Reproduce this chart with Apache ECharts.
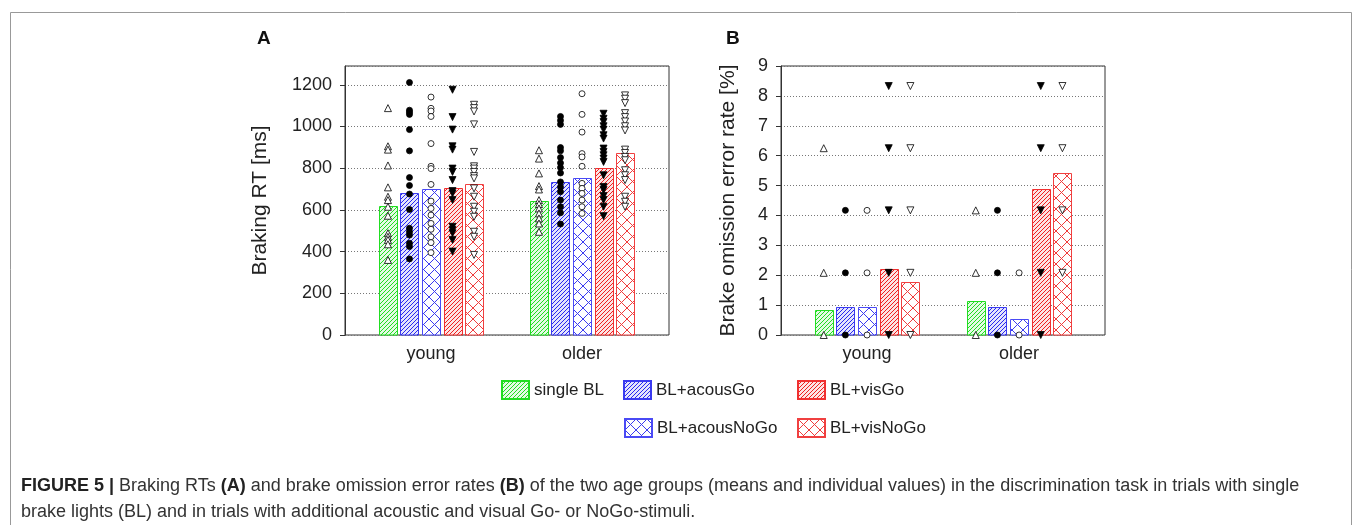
<!DOCTYPE html>
<html>
<head>
<meta charset="utf-8">
<script src="https://cdn.jsdelivr.net/npm/echarts@6/dist/echarts.min.js"></script>
<style>
  html, body { margin: 0; padding: 0; background: #fff; }
  #main { width: 1357px; height: 525px; }
</style>
</head>
<body>
<div id="main"></div>
<script>
// groups and conditions
var groups = ['young', 'older'];
var conditions = ['single BL', 'BL+acousGo', 'BL+acousNoGo', 'BL+visGo', 'BL+visNoGo'];

// panel A: braking RT means [ms]
var rtMeanYoung = [620, 679, 699, 703, 723];
var rtMeanOlder = [642, 733, 755, 801, 872];

// panel A: individual RTs per condition
var rtYoung = [
  [1088, 905, 889, 813, 708, 663, 647, 615, 572, 488, 471, 456, 435, 360],
  [1211, 1078, 1068, 1058, 985, 883, 755, 717, 676, 602, 512, 495, 479, 440, 424, 365],
  [1141, 1087, 1074, 1048, 918, 809, 798, 722, 642, 607, 575, 535, 507, 471, 443, 395],
  [1176, 1045, 985, 905, 889, 798, 782, 743, 690, 679, 647, 519, 503, 488, 456, 400],
  [1104, 1088, 1072, 1010, 878, 809, 798, 782, 762, 751, 703, 663, 615, 591, 567, 495, 471, 384]
];
var rtOlder = [
  [886, 846, 775, 714, 698, 647, 628, 607, 583, 559, 535, 495],
  [1048, 1029, 1010, 899, 883, 851, 825, 803, 777, 734, 710, 687, 647, 615, 586, 532],
  [1157, 1058, 973, 870, 854, 809, 727, 703, 679, 647, 615, 583],
  [1061, 1037, 1021, 1001, 985, 958, 942, 894, 878, 862, 846, 830, 766, 710, 695, 666, 647, 615, 570],
  [1149, 1133, 1112, 1064, 1045, 1024, 1001, 981, 889, 873, 854, 838, 790, 766, 743, 663, 639, 615]
];

// panel B: brake omission error rate means [%]
var errMeanYoung = [0.84, 0.94, 0.94, 2.2, 1.78];
var errMeanOlder = [1.14, 0.93, 0.54, 4.89, 5.41];

// panel B: individual error rates
var errYoung = [
  [6.25, 2.08, 0],
  [4.17, 2.08, 0],
  [4.17, 2.08, 0],
  [8.33, 6.25, 4.17, 2.08, 0],
  [8.33, 6.25, 4.17, 2.08, 0]
];
var errOlder = [
  [4.17, 2.08, 0],
  [4.17, 2.08, 0],
  [2.08, 0],
  [8.33, 6.25, 4.17, 2.08, 0],
  [8.33, 6.25, 4.17, 2.08]
];

var rtTicks = [0, 200, 400, 600, 800, 1000, 1200];
var errTicks = [0, 1, 2, 3, 4, 5, 6, 7, 8, 9];

var FONT = '"Liberation Sans", Arial, sans-serif';
var lineColors = ['#22dd22', '#2828f0', '#3c3cf0', '#f02020', '#f03c3c'];
var tints = ['#e4fae4', '#e4e4fc', '#ffffff', '#fce4e4', '#ffffff'];
var borderColors = ['#22dd22', '#3a3af0', '#4a4af5', '#f03030', '#f04040'];
var crossed = [false, false, true, false, true];

// hatch fill drawn pixel by pixel into a tile
function hatch(color, tint, cross) {
  var c = document.createElement('canvas');
  var s = cross ? 11 : 12;
  c.width = s; c.height = s;
  var g = c.getContext('2d');
  g.fillStyle = tint;
  g.fillRect(0, 0, s, s);
  g.fillStyle = color;
  for (var x = 0; x < s; x++) {
    for (var y = 0; y < s; y++) {
      var on = cross ? (x === y || x + y === s - 1) : ((x + y) % 4 === 3);
      if (on) g.fillRect(x, y, 1, 1);
    }
  }
  return { image: c, repeat: 'repeat' };
}

// x position of condition k in group g (groups at 1 and 2)
function xPos(g, k) { return g + 1 + (k - 2) * 0.1425; }

var symbols = ['triangle', 'circle', 'circle', 'triangle', 'triangle'];
var rotates = [0, 0, 0, 180, 180];
var filled = [false, true, false, true, false];

var series = [];
function addPanel(idx, meanY, meanO, ptsY, ptsO) {
  conditions.forEach(function (name, k) {
    var fill = hatch(lineColors[k], tints[k], crossed[k]);
    series.push({
      type: 'custom', name: name, xAxisIndex: idx, yAxisIndex: idx,
      data: [[xPos(0, k), meanY[k]], [xPos(1, k), meanO[k]]],
      encode: { x: 0, y: 1 },
      itemStyle: { color: fill, borderColor: borderColors[k], borderWidth: 1 },
      renderItem: function (params, api) {
        var top = api.coord([api.value(0), api.value(1)]);
        var base = api.coord([api.value(0), 0]);
        var x0 = Math.round(top[0] - 9) + 0.5;
        var y0 = Math.round(top[1]) + 0.5;
        return {
          type: 'rect',
          shape: { x: x0, y: y0, width: 18, height: Math.round(base[1]) - y0 },
          style: { fill: fill, stroke: borderColors[k], lineWidth: 1 }
        };
      },
      emphasis: { disabled: true },
      z: 2
    });
  });
  conditions.forEach(function (name, k) {
    var d = [];
    ptsY[k].forEach(function (v) { d.push([xPos(0, k), v]); });
    ptsO[k].forEach(function (v) { d.push([xPos(1, k), v]); });
    series.push({
      type: 'scatter', xAxisIndex: idx, yAxisIndex: idx,
      symbol: symbols[k], symbolRotate: rotates[k],
      symbolSize: symbols[k] === 'circle' ? 6 : 7,
      data: d,
      itemStyle: { color: filled[k] ? '#000' : '#fff', borderColor: '#000', borderWidth: 0.8, opacity: 1 },
      emphasis: { disabled: true },
      z: 4
    });
  });
}
addPanel(0, rtMeanYoung, rtMeanOlder, rtYoung, rtOlder);
addPanel(1, errMeanYoung, errMeanOlder, errYoung, errOlder);

function xAxisCfg(idx, min, max) {
  return {
    type: 'value', gridIndex: idx, min: min, max: max,
    axisLine: { show: false }, axisTick: { show: false }, splitLine: { show: false },
    axisLabel: {
      customValues: [1, 2], margin: 10,
      formatter: function (v) { return groups[Math.round(v) - 1] || ''; },
      fontSize: 18, fontFamily: FONT, color: '#222'
    }
  };
}
function yAxisCfg(idx, max, interval, name, gap, ticks) {
  return {
    type: 'value', gridIndex: idx, min: 0, max: max, interval: interval,
    name: name, nameLocation: 'middle', nameGap: gap, nameRotate: 90,
    nameTextStyle: { fontSize: 21, fontFamily: FONT, color: '#222' },
    axisLine: { show: true, lineStyle: { color: '#333' } },
    axisTick: { show: true, length: 5, lineStyle: { color: '#333' } },
    axisLabel: {
      fontSize: 18, fontFamily: FONT, color: '#222', margin: 13, showMaxLabel: max === ticks[ticks.length - 1],
      formatter: function (v) { return ticks.indexOf(v) >= 0 ? String(v) : ''; }
    },
    splitLine: { show: true, lineStyle: { color: '#777', type: [1, 2], width: 1 } }
  };
}

var legLeft = [501, 623, 624, 797, 797];
var legTop = [380, 380, 418, 380, 418];

var chart = echarts.init(document.getElementById('main'));
chart.setOption({
  backgroundColor: '#fff',
  animation: false,
  grid: [
    { left: 345, top: 66, right: 688, bottom: 190, show: true, borderColor: '#333', borderWidth: 1, backgroundColor: 'transparent' },
    { left: 781, top: 66, right: 252, bottom: 190, show: true, borderColor: '#333', borderWidth: 1, backgroundColor: 'transparent' }
  ],
  xAxis: [xAxisCfg(0, 0.4305, 2.576), xAxisCfg(1, 0.434, 2.565)],
  yAxis: [
    yAxisCfg(0, 1290, 200, 'Braking RT [ms]', 74, rtTicks),
    yAxisCfg(1, 9, 1, 'Brake omission error rate [%]', 42, errTicks)
  ],
  legend: conditions.map(function (c, k) {
    return {
      data: [c], left: legLeft[k], top: legTop[k], icon: 'rect', padding: 0,
      itemWidth: 27, itemHeight: 18, selectedMode: false,
      textStyle: { fontSize: 17, fontFamily: FONT, color: '#222' }
    };
  }),
  graphic: [
    { type: 'rect', left: 8, top: 10, shape: { width: 1341, height: 530 }, style: { fill: 'none', stroke: '#999', lineWidth: 1 }, silent: true },
    { type: 'text', left: 257, top: 29, style: { text: 'A', font: 'bold 19px ' + FONT, fill: '#111' } },
    { type: 'text', left: 726, top: 29, style: { text: 'B', font: 'bold 19px ' + FONT, fill: '#111' } },
    {
      type: 'text', left: 21, top: 473,
      style: {
        text: '{b|FIGURE 5 |} Braking RTs {b|(A)} and brake omission error rates {b|(B)} of the two age groups (means and individual values) in the discrimination task in trials with single\nbrake lights (BL) and in trials with additional acoustic and visual Go- or NoGo-stimuli.',
        font: '18px ' + FONT,
        fill: '#333', lineHeight: 26,
        rich: { b: { font: 'bold 18px ' + FONT, fill: '#222', lineHeight: 26 } }
      }
    }
  ],
  series: series
});
</script>
</body>
</html>
